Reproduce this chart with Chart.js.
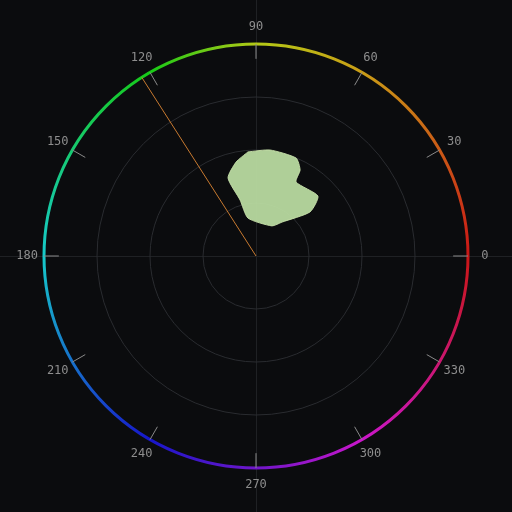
<!DOCTYPE html>
<html><head>
<script src="https://cdn.jsdelivr.net/npm/chart.js@4"></script>
<style>html,body{margin:0;background:#0b0c0e}#c{display:block}</style>
</head><body>
<canvas id="c" width="512" height="512"></canvas>
<script>
// angle labels (degrees)
const angleTicks = [0, 30, 60, 90, 120, 150, 180, 210, 240, 270, 300, 330];
const gridRadii = [0.25, 0.5, 0.75];
// outline of the colour cloud (normalised u/v)
const blobX = [-0.038, 0.066, 0.189, 0.208, 0.189, 0.292, 0.255, 0.123, 0.075, -0.038, -0.075, -0.132, -0.094];
const blobY = [0.491, 0.5, 0.462, 0.406, 0.349, 0.283, 0.208, 0.160, 0.142, 0.179, 0.264, 0.368, 0.443];
// hue marker line
const markerAngle = 122.6;
const markerRadius = 1.0;

const R = 256 / 212;
const blob = blobX.map((x, i) => ({ x, y: blobY[i] }));
blob.push(blob[0]);
const rad = markerAngle * Math.PI / 180;

const scopePlugin = {
  id: "scope",
  beforeDatasetsDraw(chart) {
    const { ctx, scales: { x, y } } = chart;
    const cx = x.getPixelForValue(0), cy = y.getPixelForValue(0);
    const unit = x.getPixelForValue(1) - cx;
    ctx.save();
    ctx.strokeStyle = "#1f2124";
    ctx.lineWidth = 1;
    ctx.beginPath();
    ctx.moveTo(0, cy + 0.5); ctx.lineTo(chart.width, cy + 0.5);
    ctx.moveTo(cx + 0.5, 0); ctx.lineTo(cx + 0.5, chart.height);
    ctx.stroke();
    ctx.strokeStyle = "#2a2c30";
    gridRadii.forEach(r => {
      ctx.beginPath(); ctx.arc(cx, cy, r * unit, 0, Math.PI * 2); ctx.stroke();
    });
    // hue ring
    const g = ctx.createConicGradient(0, cx, cy);
    for (let h = 0; h <= 360; h += 30) {
      const hue = (360 - h) % 360;
      const shifted = hue > 0 && hue < 120 ? hue * 0.75 + (hue > 60 ? 0 : 0) : hue;
      g.addColorStop(h / 360, `hsl(${shifted},80%,44%)`);
    }
    ctx.strokeStyle = g;
    ctx.lineWidth = 3;
    ctx.beginPath(); ctx.arc(cx, cy, unit, 0, Math.PI * 2); ctx.stroke();
    // ticks and labels
    ctx.strokeStyle = "#8a8a8a";
    ctx.lineWidth = 1;
    ctx.fillStyle = "#8e8e8e";
    ctx.font = "12px 'DejaVu Sans Mono'";
    ctx.textAlign = "center"; ctx.textBaseline = "middle";
    angleTicks.forEach(a => {
      const t = a * Math.PI / 180, c = Math.cos(t), s = Math.sin(t);
      ctx.beginPath();
      ctx.moveTo(cx + c * 0.93 * unit, cy - s * 0.93 * unit);
      ctx.lineTo(cx + c * unit, cy - s * unit);
      ctx.stroke();
      ctx.fillText(String(a), cx + c * 1.08 * unit, cy - s * 1.08 * unit);
    });
    ctx.restore();
  }
};

new Chart(document.getElementById("c"), {
  type: "scatter",
  data: {
    datasets: [
      {
        data: [{ x: 0, y: 0 }, { x: Math.cos(rad) * markerRadius, y: Math.sin(rad) * markerRadius }],
        showLine: true, borderColor: "#c87a30", borderWidth: 1, pointRadius: 0
      },
      {
        data: blob, showLine: true, fill: "shape", tension: 0.2,
        backgroundColor: "rgba(184,218,160,0.95)", borderColor: "rgba(200,225,170,0.9)",
        borderWidth: 1, pointRadius: 0
      }
    ]
  },
  options: {
    responsive: false, animation: false,
    layout: { padding: 0 },
    plugins: { legend: { display: false }, tooltip: { enabled: false } },
    scales: {
      x: { type: "linear", min: -R, max: R, display: false },
      y: { type: "linear", min: -R, max: R, display: false }
    }
  },
  plugins: [scopePlugin]
});
</script>
</body></html>
